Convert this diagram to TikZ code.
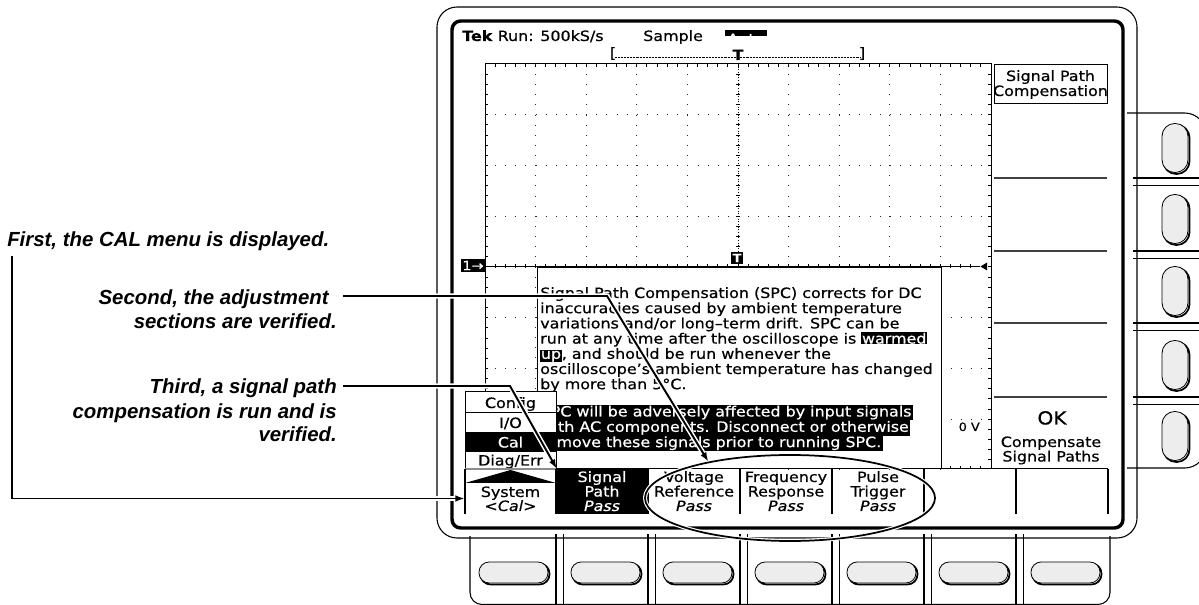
\documentclass[tikz,border=0pt]{standalone}
\usepackage{fontspec}
\usepackage{xcolor}
\newfontfamily\scrfont[FakeStretch=1.12,FakeBold=0.6]{DejaVu Sans}
\newfontfamily\labfont{Liberation Sans}
\usetikzlibrary{shapes.geometric,arrows.meta,calc}

\newcommand{\hilite}[1]{{\setlength{\fboxsep}{0.5pt}\colorbox{black}{\textcolor{white}{#1}}}}

\tikzset{
  scr/.style={font=\scrfont\fontsize{10.65}{11.5}\selectfont, inner sep=0pt},
  scrsmall/.style={font=\scrfont\fontsize{8.6}{9}\selectfont, inner sep=0pt},
  scrbig/.style={font=\scrfont\fontsize{13.5}{14}\selectfont, inner sep=0pt},
  steplabel/.style={font=\labfont\bfseries\itshape\fontsize{15.3}{17.6}\selectfont, inner sep=0pt},
  leadline/.style={line width=1.45pt, preaction={draw=white, line width=3.8pt}},
  arrowed/.style={-{Latex[length=7pt,width=5pt]}},
  knob/.style={draw=black, line width=0.6pt, fill=black!7},
  knobshadow/.style={draw=black, line width=1.3pt},
  griddots/.style={line width=0.7pt, dash pattern=on 0.7pt off 6.89pt, black!85},
  hair/.style={line width=0.75pt},
  warnline/.style={scr, anchor=base west, fill=black, text=white, text height=8.6pt, text depth=2.9pt, inner xsep=1pt}
}

\begin{document}
\begin{tikzpicture}[x=0.75pt,y=-0.75pt]
\useasboundingbox (0,0) rectangle (1199,605);
\clip (0,0) rectangle (1199,605);

% side buttons
\draw[line width=0.8pt, fill=white, rounded corners=16pt] (1127,113) -- (1206,113) -- (1206,468) -- (1127,468);
\foreach \sy in {178,251,323,397}{
  \draw[line width=1.5pt] (1133,\sy) -- (1206,\sy);
  \draw[line width=0.7pt] (1133,{\sy+7}) -- (1206,{\sy+7});
}
\foreach \by in {148,219,291,365,436}{
  \draw[knobshadow, rounded corners=9.5pt] (1163.5,{\by-23}) rectangle (1189.5,{\by+26});
  \draw[knob, rounded corners=9.5pt] (1162,{\by-24.5}) rectangle (1188,{\by+24.5});
}

% bottom buttons
\draw[line width=0.8pt, fill=white, rounded corners=9pt] (470,536) -- (470,604.5) -- (1110,604.5) -- (1110,536);
\foreach \bx in {556,648,740,832,924,1016}{
  \draw[line width=1.5pt] (\bx,534) -- (\bx,605);
  \draw[line width=0.7pt] ({\bx+7},534) -- ({\bx+7},605);
}
\foreach \k in {0,...,6}{
  \pgfmathsetmacro\bx{513.5+92*\k}
  \draw[knobshadow, rounded corners=7.6pt] ({\bx-33},563.5) rectangle ({\bx+36},584.5);
  \draw[knob, rounded corners=7.6pt] ({\bx-34.5},562) rectangle ({\bx+34.5},583);
}

% bezel
\draw[line width=0.8pt, rounded corners=15pt] (437,7) rectangle (1137,538);
\draw[line width=2.6pt, rounded corners=6.5pt] (452,21) rectangle (1123,528);

% status line
\node[scr, anchor=base west] (status) at (462,41) {\textbf{Tek} Run: 500kS/s};
\node[scr, anchor=base west] (acqmode) at (643,41) {Sample};
\begin{scope}
  \clip (725,30) rectangle (767,36);
  \fill (725,30) rectangle (767,36);
  \node[scr, anchor=base, text=white] (trigstate) at (746,44) {Auto};
\end{scope}
\draw[line width=0.5pt, dash pattern=on 0.5pt off 0.6pt] (615,57) -- (861,57);
\node[scr, anchor=base] (recl) at (613,58) {[};
\node[scr, anchor=base] (recr) at (862,58) {]};
\node[scr, anchor=base] (trigpos) at (738,60) {\textbf{T}};

% graticule
\draw[hair] (485,64) rectangle (991,469);
\foreach \i in {1,...,49}{
  \draw[hair] ({485+\i*10.12},64) -- ++(0,3);
  \draw[hair] ({485+\i*10.12},469) -- ++(0,-3);
}
\foreach \j in {1,...,39}{
  \draw[hair] (485,{64+\j*10.15}) -- ++(3,0);
  \draw[hair] (991,{64+\j*10.15}) -- ++(-3,0);
}
\foreach \i in {1,2,3,4,6,7,8,9}
  \draw[griddots] ({485+\i*50.6},64) -- ({485+\i*50.6},469);
\foreach \j in {1,2,3,5,6,7}
  \draw[griddots] (485,{64+\j*50.75}) -- (991,{64+\j*50.75});
\draw[line width=0.5pt, dash pattern=on 0.6pt off 1.4pt] (738,64) -- (738,268);
\foreach \j in {1,...,19}
  \draw[hair] (736,{64+\j*10.15}) -- ++(4,0);

% help box
\draw[hair, fill=white] (537,268) rectangle (941,469);
\node[scr, anchor=base west] (help1) at (540,298) {Signal Path Compensation (SPC) corrects for DC};
\node[scr, anchor=base west] (help2) at (540,313.2) {inaccuracies caused by ambient temperature};
\node[scr, anchor=base west] (help3) at (540,328.4) {variations and/or long–term drift. SPC can be};
\node[scr, anchor=base west] (help4) at (540,343.6) {run at any time after the oscilloscope is \hilite{warmed}};
\node[scr, anchor=base west] (help5) at (540,358.8) {\hilite{up}, and should be run whenever the};
\node[scr, anchor=base west] (help6) at (540,374) {oscilloscope’s ambient temperature has changed};
\node[scr, anchor=base west] (help7) at (540,389.2) {by more than 5°C.};
\node[warnline] (warn1) at (539,416.5) {SPC will be adversely affected by input signals};
\node[warnline] (warn2) at (539,431.8) {with AC components. Disconnect or otherwise};
\node[warnline] (warn3) at (539,447.1) {remove these signals prior to running SPC.};

% trace and markers
\draw[line width=0.6pt] (485,266.5) -- (980,266.5);
\foreach \i in {1,...,48}
  \draw[hair] ({485+\i*10.12},264.5) -- ++(0,4);
\node[scrsmall, font=\scrfont\fontsize{9.6}{10}\selectfont, fill=black, text=white, inner xsep=1.2pt, inner ysep=1.2pt] (chmark) at (473,265.5) {1→};
\node[scrsmall, fill=black, text=white, inner xsep=1.5pt, inner ysep=1.5pt] (triglevel) at (737,258) {\textbf{T}};
\fill (980.5,266.5) -- (987,262.5) -- (987,270.5) -- cycle;
\node[scrsmall, anchor=base east] (zerovolt) at (980,431) {0 V};

% side menu
\draw[hair, fill=white] (994,65) rectangle (1107,104);
\node[scr, anchor=base] (title1) at (1050.5,81) {Signal Path};
\node[scr, anchor=base] (title2) at (1050.5,96) {Compensation};
\foreach \sy in {178,251,323,397}
  \draw[line width=0.9pt, black!75] (994,\sy) -- (1107,\sy);
\node[scrbig, anchor=base] (okbtn) at (1052,424.5) {OK};
\node[scr, anchor=base] (okline1) at (1051,447) {Compensate};
\node[scr, anchor=base] (okline2) at (1051,461.5) {Signal Paths};

% pop-up menu
\draw[hair, fill=white] (465,392) rectangle (556,469);
\foreach \ry in {413,433,452}
  \draw[hair] (465,\ry) -- (556,\ry);
\fill (465,433) rectangle (556,452);
\node[scr, anchor=base] (mconfig) at (510.5,408) {Config};
\node[scr, anchor=base] (mio) at (510.5,428) {I/O};
\node[scr, anchor=base, text=white] (mcal) at (510.5,447.5) {Cal};
\node[scr, anchor=base] (mdiag) at (510.5,465.5) {Diag/Err};
\draw[line width=1.5pt, black!45] (465,469) -- (556,469);
\fill (510.5,470) -- (556,483) -- (465,483) -- cycle;

% bottom menu
\draw[hair] (556,469) -- (1108,469);
\foreach \bx in {465,556,648,740,832,924,1016,1108}
  \draw[line width=0.9pt] (\bx,469) -- (\bx,514);
\node[inner sep=0pt, minimum width=68.25pt, minimum height=23.25pt] (sysbox) at (510.5,498.5) {};
\node[fill=black, inner sep=0pt, minimum width=67.5pt, minimum height=33.75pt] (spbox) at (602,491.5) {};
\node[scr, anchor=base] (sys1) at (510.5,497) {System};
\node[scr, anchor=base] (sys2) at (510.5,511) {\itshape <Cal>};
\node[scr, anchor=base, text=white] (sp1) at (602,482) {Signal};
\node[scr, anchor=base, text=white] (sp2) at (602,496.5) {Path};
\node[scr, anchor=base, text=white] (sp3) at (602,511) {\itshape Pass};
\foreach \cx/\la/\lb in {694/Voltage/Reference, 786/Frequency/Response, 878/Pulse/Trigger}{
  \node[scr, anchor=base] (top\cx) at (\cx,482) {\la};
  \node[scr, anchor=base] (mid\cx) at (\cx,496.5) {\lb};
  \node[scr, anchor=base] (low\cx) at (\cx,511) {\itshape Pass};
}

% ring round the adjustment sections
\node[draw, ellipse, line width=1.3pt, inner sep=0pt, minimum width=217.5pt, minimum height=64.5pt,
      preaction={draw=white, line width=3pt}] (ell) at (790,498) {};

% callouts
\node[steplabel, anchor=base west] (first) at (7,246.5) {First, the CAL menu is displayed.};
\node[steplabel, anchor=base east] (second) at (329,305) {Second, the adjustment};
\node[steplabel, anchor=base east] (secondb) at (337,328.5) {sections are verified.};
\node[steplabel, anchor=base east] (third) at (337,394) {Third, a signal path};
\node[steplabel, anchor=base east] (thirdb) at (337,419) {compensation is run and is};
\node[steplabel, anchor=base east] (thirdc) at (337,442) {verified.};

\coordinate (firstfoot) at (12,256);
\coordinate (secondfoot) at (343,296);
\coordinate (secondknee) at (607,296);
\coordinate (thirdfoot) at (343,386);
\coordinate (thirdknee) at (510,386);

\draw[leadline, arrowed] (firstfoot) |- (sysbox.west);
\draw[leadline, arrowed] (secondfoot) -- (secondknee) -- (ell.156);
\draw[leadline, arrowed] (thirdfoot) -- (thirdknee) -- (spbox.north west);
\end{tikzpicture}
\end{document}
